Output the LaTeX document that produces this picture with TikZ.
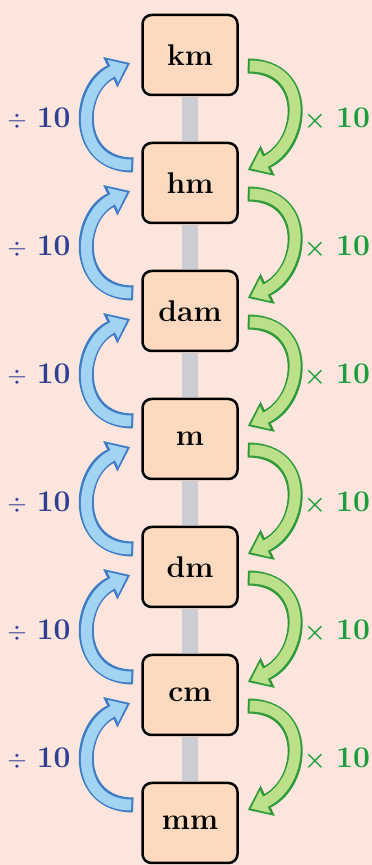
\documentclass[tikz,border=0pt]{standalone}
\usepackage{amsmath,amssymb}
\usepackage{tikz}
\usetikzlibrary{arrows.meta}
\definecolor{bgPink}{HTML}{FCE5DD}
\definecolor{boxPeach}{HTML}{FCD9BF}
\definecolor{barGray}{HTML}{CBCDD2}
\definecolor{divBlue}{HTML}{2F3F92}
\definecolor{arrBlue}{HTML}{A3D3F2}
\definecolor{arrBlueEdge}{HTML}{3F7CC6}
\definecolor{mulGreen}{HTML}{1E9C3C}
\definecolor{arrGreen}{HTML}{BCE08A}
\definecolor{arrGreenEdge}{HTML}{2E9A3A}

\begin{document}
\begin{tikzpicture}[x=1pt, y=1pt,
	unit/.style={draw=black, line width=2.5pt, rounded corners=9pt, fill=boxPeach, minimum width=95pt, minimum height=80pt, font=\fontsize{30}{32}\selectfont\bfseries},
	bar/.style={draw=barGray, line width=16pt, shorten <=1.2pt, shorten >=1.2pt},
	upArr/.style={draw=arrBlue, line width=11pt, -{Triangle[width=24pt,length=16pt]}, shorten >=3.4pt, shorten <=2pt, preaction={draw=arrBlueEdge, line width=15pt, -{Triangle[width=32pt,length=22pt]}, shorten >=0pt, shorten <=0pt}},
	downArr/.style={draw=arrGreen, line width=11pt, -{Triangle[width=24pt,length=16pt]}, shorten >=3.4pt, shorten <=2pt, preaction={draw=arrGreenEdge, line width=15pt, -{Triangle[width=32pt,length=22pt]}, shorten >=0pt, shorten <=0pt}},
	divLbl/.style={text=divBlue, font=\fontsize{30}{32}\selectfont\bfseries},
	mulLbl/.style={text=mulGreen, font=\fontsize{30}{32}\selectfont\bfseries}]
	\fill[bgPink] (0,0) rectangle (372,865);
	\useasboundingbox (0,0) rectangle (372,865);
	\node[unit] (km) at (190,810) {km};
	\node[unit] (hm) at (190,682) {hm};
	\node[unit] (dam) at (190,554) {dam};
	\node[unit] (m) at (190,426) {m};
	\node[unit] (dm) at (190,298) {dm};
	\node[unit] (cm) at (190,170) {cm};
	\node[unit] (mm) at (190,42) {mm};
	\draw[bar] (km) -- (hm);
	\draw[bar] (hm) -- (dam);
	\draw[bar] (dam) -- (m);
	\draw[bar] (m) -- (dm);
	\draw[bar] (dm) -- (cm);
	\draw[bar] (cm) -- (mm);
	\draw[upArr] ([xshift=-8pt,yshift=18pt]hm.west) to[out=180,in=205,looseness=1.5] ([xshift=-11pt,yshift=-8pt]km.west);
	\draw[upArr] ([xshift=-8pt,yshift=18pt]dam.west) to[out=180,in=205,looseness=1.5] ([xshift=-11pt,yshift=-8pt]hm.west);
	\draw[upArr] ([xshift=-8pt,yshift=18pt]m.west) to[out=180,in=205,looseness=1.5] ([xshift=-11pt,yshift=-8pt]dam.west);
	\draw[upArr] ([xshift=-8pt,yshift=18pt]dm.west) to[out=180,in=205,looseness=1.5] ([xshift=-11pt,yshift=-8pt]m.west);
	\draw[upArr] ([xshift=-8pt,yshift=18pt]cm.west) to[out=180,in=205,looseness=1.5] ([xshift=-11pt,yshift=-8pt]dm.west);
	\draw[upArr] ([xshift=-8pt,yshift=18pt]mm.west) to[out=180,in=205,looseness=1.5] ([xshift=-11pt,yshift=-8pt]cm.west);
	\draw[downArr] ([xshift=9pt,yshift=-11pt]km.east) to[out=0,in=25,looseness=1.55] ([xshift=9pt,yshift=13pt]hm.east);
	\draw[downArr] ([xshift=9pt,yshift=-11pt]hm.east) to[out=0,in=25,looseness=1.55] ([xshift=9pt,yshift=13pt]dam.east);
	\draw[downArr] ([xshift=9pt,yshift=-11pt]dam.east) to[out=0,in=25,looseness=1.55] ([xshift=9pt,yshift=13pt]m.east);
	\draw[downArr] ([xshift=9pt,yshift=-11pt]m.east) to[out=0,in=25,looseness=1.55] ([xshift=9pt,yshift=13pt]dm.east);
	\draw[downArr] ([xshift=9pt,yshift=-11pt]dm.east) to[out=0,in=25,looseness=1.55] ([xshift=9pt,yshift=13pt]cm.east);
	\draw[downArr] ([xshift=9pt,yshift=-11pt]cm.east) to[out=0,in=25,looseness=1.55] ([xshift=9pt,yshift=13pt]mm.east);
	\node[divLbl] (div1) at (39,746) {$\div$\,\,10};
	\node[divLbl] (div2) at (39,618) {$\div$\,\,10};
	\node[divLbl] (div3) at (39,490) {$\div$\,\,10};
	\node[divLbl] (div4) at (39,362) {$\div$\,\,10};
	\node[divLbl] (div5) at (39,234) {$\div$\,\,10};
	\node[divLbl] (div6) at (39,106) {$\div$\,\,10};
	\node[mulLbl] (mul1) at (337,746) {$\boldsymbol{\times}$\,\,10};
	\node[mulLbl] (mul2) at (337,618) {$\boldsymbol{\times}$\,\,10};
	\node[mulLbl] (mul3) at (337,490) {$\boldsymbol{\times}$\,\,10};
	\node[mulLbl] (mul4) at (337,362) {$\boldsymbol{\times}$\,\,10};
	\node[mulLbl] (mul5) at (337,234) {$\boldsymbol{\times}$\,\,10};
	\node[mulLbl] (mul6) at (337,106) {$\boldsymbol{\times}$\,\,10};
\end{tikzpicture}
\end{document}
